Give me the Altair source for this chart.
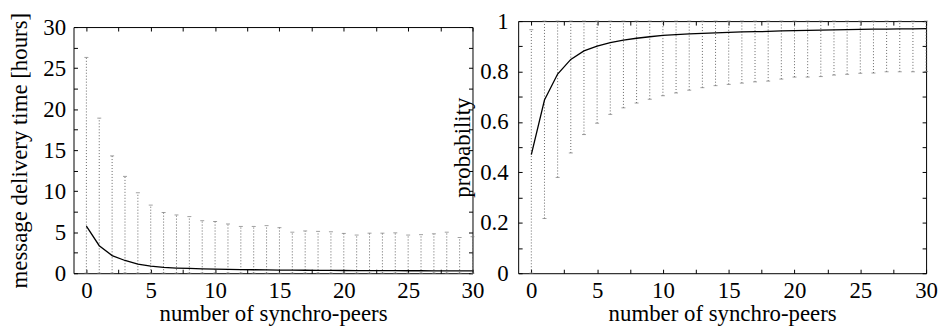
import altair as alt
import pandas as pd

# ---------------- data ----------------
peers = list(range(31))

delay_mean = [5.75, 3.35, 2.15, 1.55, 1.12, 0.85, 0.70, 0.63, 0.58, 0.53, 0.49,
              0.46, 0.44, 0.42, 0.40, 0.38, 0.37, 0.36, 0.35, 0.34, 0.33,
              0.32, 0.32, 0.31, 0.31, 0.30, 0.30, 0.29, 0.29, 0.28, 0.28]
delay_low = [0, 0, 0, 0, 0, 0, 0, 0, 0, 0, 0,
             0, 0, 0, 0, 0, 0, 0, 0, 0, 0,
             0, 0, 0, 0, 0, 0, 0, 0, 0, 0]
delay_high = [26.3, 18.9, 14.3, 11.8, 9.8, 8.3, 7.4, 7.1, 6.9, 6.4, 6.3,
              6.0, 5.7, 5.7, 5.8, 5.55, 5.0, 5.15, 5.1, 5.05, 4.85,
              4.65, 4.88, 4.88, 4.92, 4.65, 4.7, 4.8, 5.0, 4.35, 4.45]

prob_mean = [0.47, 0.687, 0.79, 0.848, 0.882, 0.901, 0.915, 0.925, 0.932, 0.938, 0.943,
             0.946, 0.949, 0.951, 0.953, 0.955, 0.957, 0.958, 0.959, 0.961, 0.962,
             0.963, 0.964, 0.965, 0.966, 0.967, 0.968, 0.968, 0.969, 0.969, 0.970]
prob_low = [0.0, 0.217, 0.38, 0.477, 0.55, 0.595, 0.63, 0.656, 0.675, 0.69, 0.704,
            0.715, 0.726, 0.736, 0.744, 0.749, 0.754, 0.759, 0.762, 0.770, 0.778,
            0.778, 0.78, 0.786, 0.789, 0.793, 0.794, 0.799, 0.799, 0.799, 0.80]
prob_high = [0.966, 1.0, 1.0, 1.0, 1.0, 1.0, 1.0, 1.0, 1.0, 1.0, 1.0,
             1.0, 1.0, 1.0, 1.0, 1.0, 1.0, 1.0, 1.0, 1.0, 1.0,
             1.0, 1.0, 1.0, 1.0, 1.0, 1.0, 1.0, 1.0, 1.0, 1.0]

x_labels = [0, 5, 10, 15, 20, 25, 30]
x_ticks = [0, 2.5, 5, 7.5, 10, 12.5, 15, 17.5, 20, 22.5, 25, 27.5, 30]
delay_labels = [0, 5, 10, 15, 20, 25, 30]
delay_ticks = [0, 2.5, 5, 7.5, 10, 12.5, 15, 17.5, 20, 22.5, 25, 27.5, 30]
prob_labels = [0, 0.2, 0.4, 0.6, 0.8, 1]
prob_ticks = [0, 0.1, 0.2, 0.3, 0.4, 0.5, 0.6, 0.7, 0.8, 0.9, 1]

x_title = "number of synchro-peers"
delay_title = "message delivery time [hours]"
prob_title = "probability"

# ---------------- style ----------------
FONT = "Liberation Serif"
FS = 23
TICK = 4


def label_axis(orient, values, title, pad, tpad):
    return alt.Axis(orient=orient, values=values, title=title, format="~g",
                    ticks=False, tickSize=0, domain=False, grid=False,
                    labelFlush=False, labelOverlap=False,
                    labelPadding=pad, titlePadding=tpad)


def tick_axis(orient, values):
    return alt.Axis(orient=orient, values=values, title="", labels=False,
                    ticks=True, tickSize=TICK, offset=-TICK, domain=False,
                    grid=False, tickColor="black", tickWidth=1)


def panel(mean, low, high, ymax, ytitle, ylabels, yticks, width, height,
          ylabpad, ytitlepad):
    df = pd.DataFrame({"peers": peers, "mean": mean, "low": low, "high": high})
    xs = alt.Scale(domain=[-1, 30], nice=False, zero=False)
    ys = alt.Scale(domain=[0, ymax], nice=False, zero=False)
    base = alt.Chart(df)

    bars = base.mark_rule(color="#666666", strokeWidth=1, strokeDash=[1, 2]).encode(
        x=alt.X("peers:Q", scale=xs, axis=label_axis("bottom", x_labels, x_title, 6, 1)),
        y=alt.Y("low:Q", scale=ys, axis=label_axis("left", ylabels, ytitle, ylabpad, ytitlepad)),
        y2="high:Q",
    )
    caps_hi = base.mark_tick(color="#777777", orient="horizontal", size=4, thickness=1).encode(
        x=alt.X("peers:Q", scale=xs, axis=tick_axis("bottom", x_ticks)),
        y=alt.Y("high:Q", scale=ys, axis=tick_axis("left", yticks)),
    )
    caps_lo = base.mark_tick(color="#777777", orient="horizontal", size=4, thickness=1).encode(
        x=alt.X("peers:Q", scale=xs, axis=tick_axis("top", x_ticks)),
        y=alt.Y("low:Q", scale=ys, axis=tick_axis("right", yticks)),
    )
    line = base.mark_line(color="black", strokeWidth=1.3).encode(
        x=alt.X("peers:Q", scale=xs, axis=None),
        y=alt.Y("mean:Q", scale=ys, axis=None),
    )
    return (alt.layer(bars, caps_hi, caps_lo, line)
            .resolve_axis(x="independent", y="independent")
            .properties(width=width, height=height))


left = panel(delay_mean, delay_low, delay_high, 30, delay_title,
             delay_labels, delay_ticks, 402, 248, 8, 11)
right = panel(prob_mean, prob_low, prob_high, 1, prob_title,
              prob_labels, prob_ticks, 411, 254, 10, 5)

spacer = (alt.Chart(pd.DataFrame({"a": [0]}))
          .mark_point(opacity=0)
          .encode(x=alt.value(0), y=alt.value(0))
          .properties(width=402, height=1,
                      view=alt.ViewBackground(stroke="transparent")))

left_col = alt.vconcat(spacer, left, spacing=5, bounds="flush")

chart = (alt.hconcat(left_col, right, spacing=-34)
         .configure_view(stroke="black", strokeWidth=1)
         .configure_axis(labelFont=FONT, titleFont=FONT, labelFontSize=FS,
                         titleFontSize=FS, labelColor="black", titleColor="black",
                         titleFontWeight="normal")
         .properties(padding={"left": 0, "top": 0, "right": 0, "bottom": 0}))

chart.save("out.html", embed_options={"renderer": "svg", "actions": False})
